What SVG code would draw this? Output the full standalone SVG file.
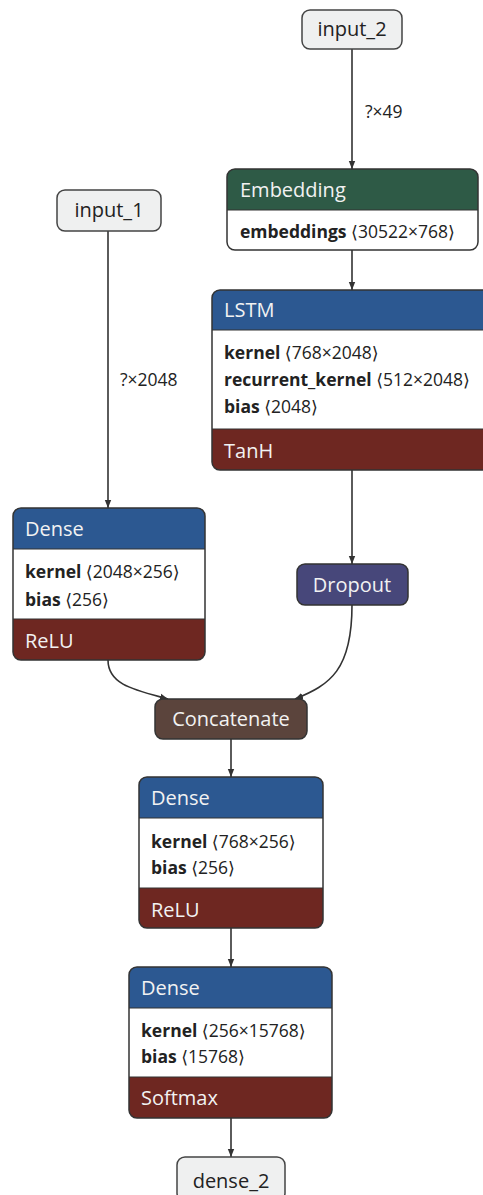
<svg xmlns="http://www.w3.org/2000/svg" width="483" height="1195" viewBox="0 0 483 1195">
<style>
.t{font-family:"Open Sans","DejaVu Sans",sans-serif;}
.hd{font-size:20px;fill:#f2f2f2;}
.pr{font-size:17.5px;fill:#222;}
.b{font-weight:bold;}
.io{font-size:20px;fill:#222;}
.frame{fill:none;stroke:#333;stroke-width:1.5;}
.edge{fill:none;stroke:#333;stroke-width:1.6;}
.lbl{font-size:17.5px;fill:#222;}
</style>
<defs>
<marker id="ah" viewBox="0 0 10 10" refX="10" refY="5" markerWidth="8" markerHeight="8" orient="auto" markerUnits="userSpaceOnUse">
<path d="M0,1 L10,5 L0,9 Z" fill="#333"/>
</marker>
<clipPath id="cEmb"><rect x="227" y="169" width="251" height="81" rx="8"/></clipPath>
<clipPath id="cLstm"><rect x="212" y="290" width="278" height="180" rx="8"/></clipPath>
<clipPath id="cD1"><rect x="13" y="508" width="192" height="152" rx="8"/></clipPath>
<clipPath id="cD2"><rect x="139" y="777" width="184" height="151" rx="8"/></clipPath>
<clipPath id="cD3"><rect x="129" y="967" width="203" height="151" rx="8"/></clipPath>
</defs>
<rect width="483" height="1195" fill="#ffffff"/>
<g id="connectors">
<path class="edge" d="M352,49 V169" marker-end="url(#ah)"/>
<text class="t lbl" x="365" y="118">?×49</text>
<path class="edge" d="M108,231 V508" marker-end="url(#ah)"/>
<text class="t lbl" x="120" y="386">?×2048</text>
<path class="edge" d="M352,250 V290" marker-end="url(#ah)"/>
<path class="edge" d="M352,470 V564" marker-end="url(#ah)"/>
<path class="edge" d="M108,660 C108,685 135,690 168,699" marker-end="url(#ah)"/>
<path class="edge" d="M352,605 C352,670 330,685 295,699" marker-end="url(#ah)"/>
<path class="edge" d="M231,739 V777" marker-end="url(#ah)"/>
<path class="edge" d="M231,928 V967" marker-end="url(#ah)"/>
<path class="edge" d="M231,1118 V1157" marker-end="url(#ah)"/>
</g>
<g id="input_2">
<rect x="302" y="10" width="100" height="39" rx="8" fill="#eff0f0" stroke="#444" stroke-width="1.5"/>
<text class="t io" x="352" y="36" text-anchor="middle">input_2</text>
</g>
<g id="input_1">
<rect x="57" y="190" width="104" height="41" rx="8" fill="#eff0f0" stroke="#444" stroke-width="1.5"/>
<text class="t io" x="109" y="217" text-anchor="middle">input_1</text>
</g>
<g id="embedding">
<g clip-path="url(#cEmb)">
<rect x="227" y="169" width="251" height="81" fill="#fff"/>
<rect x="227" y="169" width="251" height="41" fill="#2e5a46"/>
<line x1="227" y1="210" x2="478" y2="210" stroke="#333" stroke-width="1.2"/>
</g>
<rect class="frame" x="227" y="169" width="251" height="81" rx="8"/>
<text class="t hd" x="240" y="197">Embedding</text>
<text class="t pr" x="240" y="238"><tspan class="b">embeddings</tspan> ⟨30522×768⟩</text>
</g>
<g id="lstm">
<g clip-path="url(#cLstm)">
<rect x="212" y="290" width="278" height="180" fill="#fff"/>
<rect x="212" y="290" width="278" height="40" fill="#2c5891"/>
<rect x="212" y="429" width="278" height="41" fill="#6e2721"/>
<line x1="212" y1="330" x2="490" y2="330" stroke="#333" stroke-width="1.2"/>
<line x1="212" y1="429" x2="490" y2="429" stroke="#333" stroke-width="1.2"/>
</g>
<rect class="frame" x="212" y="290" width="278" height="180" rx="8"/>
<text class="t hd" x="224" y="317">LSTM</text>
<text class="t pr" x="224" y="359"><tspan class="b">kernel</tspan> ⟨768×2048⟩</text>
<text class="t pr" x="224" y="386"><tspan class="b">recurrent_kernel</tspan> ⟨512×2048⟩</text>
<text class="t pr" x="224" y="413"><tspan class="b">bias</tspan> ⟨2048⟩</text>
<text class="t hd" x="224" y="458">TanH</text>
</g>
<g id="dense_a">
<g clip-path="url(#cD1)">
<rect x="13" y="508" width="192" height="152" fill="#fff"/>
<rect x="13" y="508" width="192" height="41" fill="#2c5891"/>
<rect x="13" y="619" width="192" height="41" fill="#6e2721"/>
<line x1="13" y1="549" x2="205" y2="549" stroke="#333" stroke-width="1.2"/>
<line x1="13" y1="619" x2="205" y2="619" stroke="#333" stroke-width="1.2"/>
</g>
<rect class="frame" x="13" y="508" width="192" height="152" rx="8"/>
<text class="t hd" x="25" y="536">Dense</text>
<text class="t pr" x="25" y="578"><tspan class="b">kernel</tspan> ⟨2048×256⟩</text>
<text class="t pr" x="25" y="606"><tspan class="b">bias</tspan> ⟨256⟩</text>
<text class="t hd" x="25" y="648">ReLU</text>
</g>
<g id="dropout">
<rect x="297" y="564" width="111" height="41" rx="8" fill="#47477a" stroke="#333" stroke-width="1.5"/>
<text class="t hd" x="352" y="592" text-anchor="middle">Dropout</text>
</g>
<g id="concatenate">
<rect x="155" y="699" width="152" height="40" rx="8" fill="#5b443c" stroke="#333" stroke-width="1.5"/>
<text class="t hd" x="231" y="726" text-anchor="middle">Concatenate</text>
</g>
<g id="dense_b">
<g clip-path="url(#cD2)">
<rect x="139" y="777" width="184" height="151" fill="#fff"/>
<rect x="139" y="777" width="184" height="41" fill="#2c5891"/>
<rect x="139" y="888" width="184" height="40" fill="#6e2721"/>
<line x1="139" y1="818" x2="323" y2="818" stroke="#333" stroke-width="1.2"/>
<line x1="139" y1="888" x2="323" y2="888" stroke="#333" stroke-width="1.2"/>
</g>
<rect class="frame" x="139" y="777" width="184" height="151" rx="8"/>
<text class="t hd" x="151" y="805">Dense</text>
<text class="t pr" x="151" y="848"><tspan class="b">kernel</tspan> ⟨768×256⟩</text>
<text class="t pr" x="151" y="874"><tspan class="b">bias</tspan> ⟨256⟩</text>
<text class="t hd" x="151" y="917">ReLU</text>
</g>
<g id="dense_c">
<g clip-path="url(#cD3)">
<rect x="129" y="967" width="203" height="151" fill="#fff"/>
<rect x="129" y="967" width="203" height="41" fill="#2c5891"/>
<rect x="129" y="1077" width="203" height="41" fill="#6e2721"/>
<line x1="129" y1="1008" x2="332" y2="1008" stroke="#333" stroke-width="1.2"/>
<line x1="129" y1="1077" x2="332" y2="1077" stroke="#333" stroke-width="1.2"/>
</g>
<rect class="frame" x="129" y="967" width="203" height="151" rx="8"/>
<text class="t hd" x="141" y="995">Dense</text>
<text class="t pr" x="141" y="1037"><tspan class="b">kernel</tspan> ⟨256×15768⟩</text>
<text class="t pr" x="141" y="1063"><tspan class="b">bias</tspan> ⟨15768⟩</text>
<text class="t hd" x="141" y="1105">Softmax</text>
</g>
<g id="dense_2">
<rect x="177" y="1157" width="108" height="44" rx="8" fill="#eff0f0" stroke="#444" stroke-width="1.5"/>
<text class="t io" x="231" y="1188" text-anchor="middle">dense_2</text>
</g>
</svg>
